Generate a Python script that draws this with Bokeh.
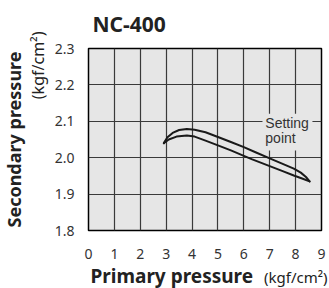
from bokeh.plotting import figure
from bokeh.models import Label, FixedTicker, NumeralTickFormatter, Range1d, Title
from bokeh.embed import file_html
from bokeh.resources import INLINE

# data
upper_x = [2.91, 3.05, 3.25, 3.5, 3.8, 4.1, 4.52, 5.0, 5.5, 6.0, 6.45, 7.0, 7.5, 7.93, 8.2, 8.4, 8.54]
upper_y = [2.040, 2.056, 2.068, 2.076, 2.079, 2.077, 2.070, 2.057, 2.043, 2.029, 2.015, 1.998, 1.983, 1.970, 1.959, 1.947, 1.935]
lower_x = [2.91, 3.1, 3.4, 3.8, 4.1, 4.52, 5.0, 5.5, 6.0, 6.3, 7.0, 7.5, 7.93, 8.25, 8.54]
lower_y = [2.040, 2.050, 2.058, 2.061, 2.058, 2.047, 2.034, 2.020, 2.005, 1.996, 1.977, 1.963, 1.951, 1.943, 1.935]
x_ticks = [0, 1, 2, 3, 4, 5, 6, 7, 8, 9]
y_ticks = [1.8, 1.9, 2.0, 2.1, 2.2, 2.3]

title_text = "NC-400"
x_title = "Primary pressure"
y_title = "Secondary pressure"
unit_text = "(kgf/cm²)"
note_lines = ["Setting", "point"]

BG = "#e6e6e6"

p = figure(width=329, height=288, output_backend="svg", toolbar_location=None,
           x_range=Range1d(0, 9), y_range=Range1d(1.8, 2.3),
           min_border_left=88, min_border_right=8, min_border_top=48, min_border_bottom=58)
p.background_fill_color = BG
p.border_fill_color = "white"
p.outline_line_color = "black"
p.outline_line_width = 1.5

for ax in (p.xaxis, p.yaxis):
    ax.axis_line_color = None
    ax.major_tick_line_color = None
    ax.minor_tick_line_color = None
    ax.major_label_text_font = "Noto Sans"
    ax.major_label_text_font_size = "14px"
    ax.major_label_text_color = "#333333"

p.xaxis.ticker = FixedTicker(ticks=x_ticks)
p.yaxis.ticker = FixedTicker(ticks=y_ticks)
p.yaxis.formatter = NumeralTickFormatter(format="0.0")
p.xaxis.major_label_standoff = 12
p.yaxis.major_label_standoff = 8
# blank axis label used only as vertical spacing below the tick labels
p.xaxis.axis_label = " "
p.xaxis.axis_label_text_font_size = "8px"
p.xaxis.axis_label_standoff = 1

p.xgrid.ticker = FixedTicker(ticks=x_ticks)
p.ygrid.ticker = FixedTicker(ticks=y_ticks)
p.grid.grid_line_color = "#3a3a3a"
p.grid.grid_line_width = 1.2
p.grid.grid_line_alpha = 1.0

# box behind "Setting point" text
p.quad(left=[6.72], right=[8.65], bottom=[2.020], top=[2.121], fill_color=BG, line_color=None)

p.line(upper_x, upper_y, line_color="#1a1a1a", line_width=2, line_join="round", line_cap="round")
p.line(lower_x, lower_y, line_color="#1a1a1a", line_width=2, line_join="round", line_cap="round")

p.add_layout(Label(x=6.83, y=2.094, text=note_lines[0], text_font="Liberation Sans",
                   text_font_size="14px", text_color="#333333", text_baseline="middle"))
p.add_layout(Label(x=6.83, y=2.053, text=note_lines[1], text_font="Liberation Sans",
                   text_font_size="14px", text_color="#333333", text_baseline="middle"))

# chart title
p.title.text = title_text
p.title.text_font = "Noto Sans"
p.title.text_font_style = "bold"
p.title.text_font_size = "21px"
p.title.text_color = "#222222"
p.title.align = "left"
p.title.offset = 4
p.title.standoff = 17
p.title.vertical_align = "top"

# y axis titles (unit closer to axis, main title outside)
p.add_layout(Title(text=unit_text, text_font="Noto Sans", text_font_style="normal",
                   text_font_size="16px", text_color="#222222", align="right", offset=-17,
                   standoff=1, vertical_align="top"), "left")
p.add_layout(Title(text=y_title, text_font="Noto Sans", text_font_style="bold",
                   text_font_size="18px", text_color="#222222", align="center",
                   standoff=0, vertical_align="middle"), "left")

# x axis title and its unit on one line
p.add_layout(Title(text=x_title, text_font="Noto Sans", text_font_style="bold",
                   text_font_size="19px", text_color="#222222", align="left", offset=2,
                   standoff=-25, vertical_align="middle"), "below")
p.add_layout(Title(text=unit_text, text_font="Noto Sans", text_font_style="normal",
                   text_font_size="15px", text_color="#222222", align="right", offset=-6,
                   standoff=-22, vertical_align="top"), "below")

open("out.html", "w").write(file_html(p, INLINE))
